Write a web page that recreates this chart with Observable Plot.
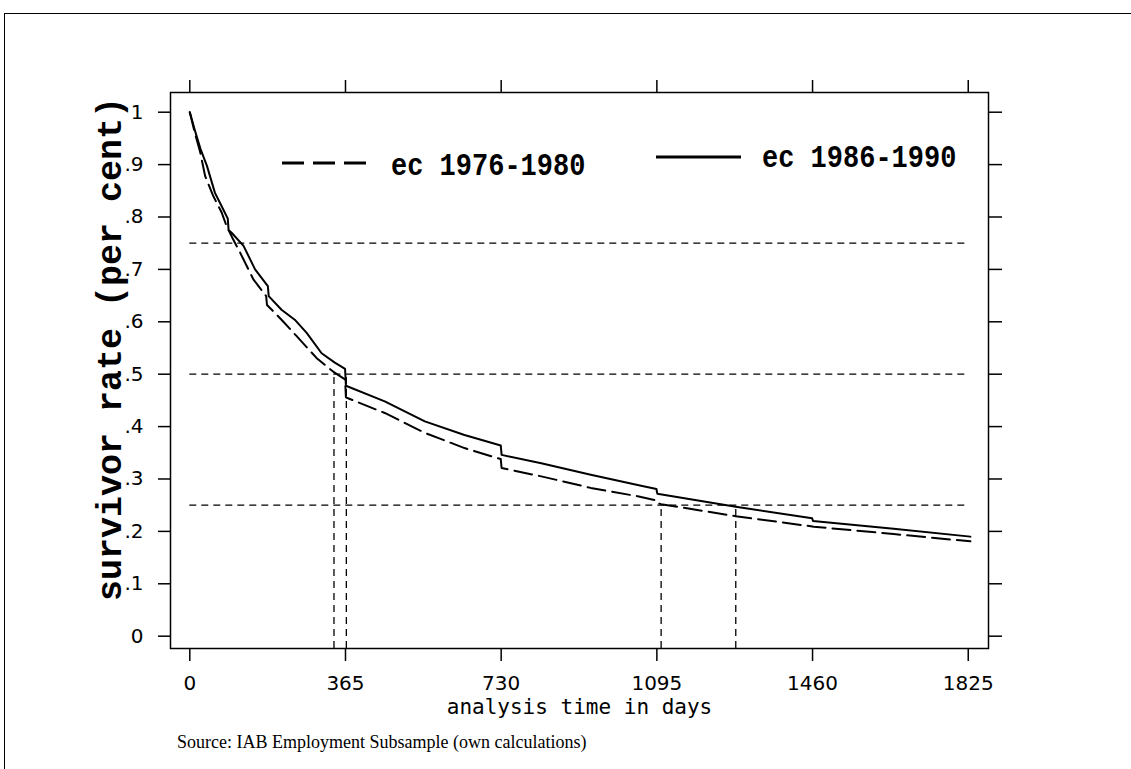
<!DOCTYPE html>
<html><head><meta charset="utf-8">
<script src="https://cdn.jsdelivr.net/npm/d3@7"></script>
<script src="https://cdn.jsdelivr.net/npm/@observablehq/plot@0.6"></script>
<style>
body{margin:0;background:#fff;}
#wrap{position:relative;width:1131px;height:769px;overflow:hidden;background:#fff;}
#outer{position:absolute;left:4px;top:13px;width:1200px;height:800px;border:1.5px solid #000;box-sizing:border-box;}
#chart{position:absolute;left:0;top:0;}
.leg{position:absolute;font-family:"Liberation Mono",monospace;font-weight:bold;font-size:27px;line-height:1;white-space:nowrap;transform:scaleY(1.15);transform-origin:left center;}
.legline{position:absolute;}
#caption{position:absolute;left:177px;top:733px;font-family:"Liberation Serif",serif;font-size:18px;line-height:1;white-space:nowrap;}
</style></head><body>
<div id="wrap"><div id="outer"></div><div id="chart"></div><div id="legend"></div><div id="caption"></div></div>
<script>
// Series: ec 1976-1980 (dashed)
const days7680 = [0,12,24,36,55,75,86,100,118,149,179,181,215,250,297,336,364,366,371,457,551,644,729,731,824,940,1050,1094,1096,1105,1280,1463,1650,1830];
const surv7680 = [1.0,0.96,0.925,0.878,0.84,0.808,0.783,0.76,0.732,0.681,0.649,0.632,0.604,0.573,0.531,0.505,0.49,0.456,0.454,0.426,0.388,0.359,0.338,0.321,0.305,0.283,0.267,0.259,0.254,0.252,0.229,0.209,0.195,0.181];
// Series: ec 1986-1990 (solid)
const days8690 = [0,12,25,40,59,75,89,91,98,126,153,183,185,215,246,274,309,340,364,366,457,551,644,729,731,824,940,1058,1094,1096,1280,1459,1461,1650,1830];
const surv8690 = [1.0,0.965,0.93,0.898,0.846,0.82,0.797,0.775,0.770,0.745,0.70,0.668,0.649,0.623,0.604,0.579,0.54,0.522,0.51,0.478,0.448,0.41,0.384,0.364,0.346,0.330,0.308,0.287,0.281,0.272,0.247,0.225,0.220,0.205,0.190];

const seriesNames = ["ec 1976-1980","ec 1986-1990"];
const xTicks = [0,365,730,1095,1460,1825];
const yTicks = [0,0.1,0.2,0.3,0.4,0.5,0.6,0.7,0.8,0.9,1];
const yTickLabels = ["0",".1",".2",".3",".4",".5",".6",".7",".8",".9","1"];
const refLevels = [0.25,0.5,0.75];
const quantileDays = [338,367,1105,1280];
const quantileLevels = [0.5,0.5,0.25,0.25];
const xTitle = "analysis time in days";
const yTitle = "survivor rate (per cent)";
const captionText = "Source: IAB Employment Subsample (own calculations)";

const xDomain = [-45.25, 1872.5];
const yDomain = [-0.0235, 1.0376];

const d7680 = days7680.map((t,i)=>({t, s: surv7680[i]}));
const d8690 = days8690.map((t,i)=>({t, s: surv8690[i]}));
const vlines = quantileDays.map((t,i)=>({t, lvl: quantileLevels[i]}));
const labelOf = new Map(yTicks.map((v,i)=>[Math.round(v*10), yTickLabels[i]]));

const tickFont = "DejaVu Sans";
const chart = Plot.plot({
  width: 1131, height: 725,
  marginLeft: 170, marginRight: 143, marginTop: 92, marginBottom: 77,
  style: {background: "transparent", color: "black", overflow: "visible"},
  x: {domain: xDomain},
  y: {domain: yDomain},
  marks: [
    Plot.ruleY(refLevels, {x1: 0, x2: 1825, stroke: "black", strokeWidth: 1.3, strokeDasharray: "7,5"}),
    Plot.ruleX(vlines, {x: "t", y1: yDomain[0], y2: "lvl", stroke: "black", strokeWidth: 1.3, strokeDasharray: "7,5"}),
    Plot.line(d7680, {x: "t", y: "s", stroke: "black", strokeWidth: 2, strokeDasharray: "18,7"}),
    Plot.line(d8690, {x: "t", y: "s", stroke: "black", strokeWidth: 2}),
    Plot.frame({stroke: "black", strokeWidth: 1.5}),
    Plot.axisX(xTicks, {anchor: "bottom", tickSize: 13, tickPadding: 14, fontSize: 20, fontFamily: tickFont, strokeWidth: 1.5, tickFormat: d => String(d), label: null}),
    Plot.axisX(xTicks, {anchor: "top", tickSize: 13, tickFormat: () => "", strokeWidth: 1.5, label: null}),
    Plot.axisY(yTicks, {anchor: "left", tickSize: 12, tickPadding: 15, fontSize: 20, fontFamily: tickFont, strokeWidth: 1.5, tickFormat: d => labelOf.get(Math.round(d*10)), label: null}),
    Plot.axisY(yTicks, {anchor: "right", tickSize: 13, tickFormat: () => "", strokeWidth: 1.5, label: null}),
    Plot.text([xTitle], {text: d => d, frameAnchor: "bottom", lineAnchor: "middle", textAnchor: "middle", dy: 59, fontFamily: "DejaVu Sans Mono", fontSize: 21}),
    Plot.text([yTitle], {text: d => d, frameAnchor: "left", textAnchor: "middle", lineAnchor: "middle", dx: -61, dy: -21.5, rotate: -90, fontFamily: "Liberation Mono", fontWeight: "bold", fontSize: 35})
  ]
});
document.getElementById("chart").appendChild(chart);

// Legend (HTML overlay)
const legendPos = [
  {lx1: 282, lx2: 367, ly: 162.5, tx: 391, ty: 167, dash: "22,9"},
  {lx1: 656, lx2: 741, ly: 157, tx: 762, ty: 159, dash: null}
];
const leg = document.getElementById("legend");
seriesNames.forEach((name, i) => {
  const p = legendPos[i];
  const ns = "http://www.w3.org/2000/svg";
  const svg = document.createElementNS(ns, "svg");
  svg.setAttribute("class", "legline");
  svg.setAttribute("width", p.lx2 - p.lx1 + 4);
  svg.setAttribute("height", 10);
  svg.style.left = (p.lx1 - 2) + "px";
  svg.style.top = (p.ly - 5) + "px";
  const ln = document.createElementNS(ns, "line");
  ln.setAttribute("x1", 2); ln.setAttribute("x2", p.lx2 - p.lx1 + 2);
  ln.setAttribute("y1", 5); ln.setAttribute("y2", 5);
  ln.setAttribute("stroke", "black"); ln.setAttribute("stroke-width", 3);
  if (p.dash) ln.setAttribute("stroke-dasharray", p.dash);
  svg.appendChild(ln);
  leg.appendChild(svg);
  const t = document.createElement("div");
  t.className = "leg";
  t.textContent = name;
  t.style.left = p.tx + "px";
  t.style.top = (p.ty - 13.5) + "px";
  leg.appendChild(t);
});
document.getElementById("caption").textContent = captionText;
</script>
</body></html>
